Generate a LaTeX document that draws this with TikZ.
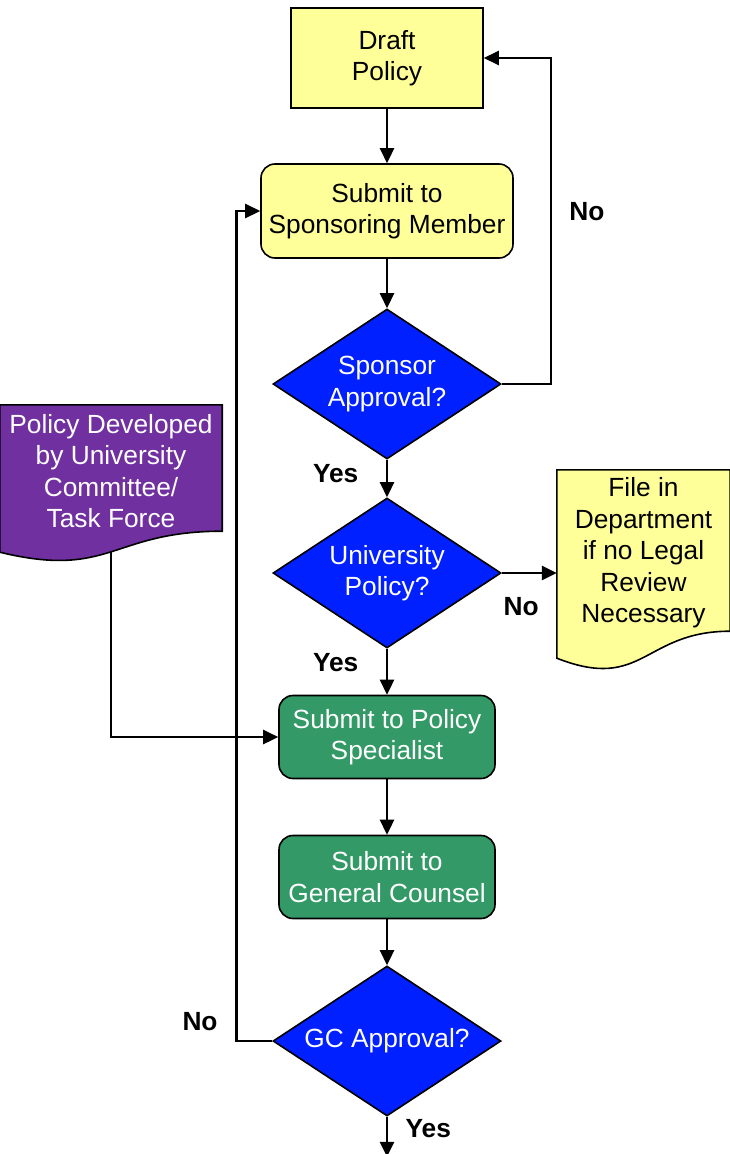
\documentclass[tikz,border=0pt]{standalone}
\usepackage{fontspec}
\setmainfont{Liberation Sans}
\usetikzlibrary{shapes.geometric,arrows.meta,positioning,backgrounds}
\definecolor{paleyellow}{RGB}{255,255,153}
\definecolor{diamondblue}{RGB}{0,32,255}
\definecolor{boxgreen}{RGB}{51,153,102}
\definecolor{docpurple}{RGB}{112,48,160}

\begin{document}
\begin{tikzpicture}[x=1pt,y=-1pt,>={Triangle[length=15pt,width=14pt]},
  every node/.style={font=\fontsize{26.3}{31.5}\selectfont, align=center},
  box/.style={draw, line width=1.6pt, fill=paleyellow},
  ybox/.style={draw, line width=1.6pt, rounded corners=14pt, fill=paleyellow},
  gbox/.style={draw, line width=1.6pt, rounded corners=14pt, fill=boxgreen, text=white, minimum width=216pt, minimum height=83pt},
  decision/.style={draw, line width=1.6pt, diamond, aspect=1.52, inner sep=0pt, fill=diamondblue, text=white, minimum width=228pt, minimum height=150pt},
  doc/.style={inner sep=0pt},
  docline/.style={line width=1.6pt},
  lbl/.style={font=\fontsize{26.3}{31.5}\selectfont\bfseries},
  line/.style={line width=2.6pt}]
        \useasboundingbox (0,0) rectangle (730,1154);
        \node[box, minimum width=192pt, minimum height=100pt] (draft) at (387,58) {Draft\\Policy};
        \node[ybox, minimum width=252pt, minimum height=94pt] (spons) [below of=draft, node distance=153pt] {Submit to\\Sponsoring Member};
        \node[decision] (spq) [below of=spons, node distance=173pt] {Sponsor\\Approval?};
        \node[decision] (uniq) [below of=spq, node distance=189pt] {University\\Policy?};
        \node[gbox] (spec) [below of=uniq, node distance=164pt] {Submit to Policy\\Specialist};
        \node[gbox] (gcsub) [below of=spec, node distance=140pt] {Submit to\\General Counsel};
        \node[decision] (gcq) [below of=gcsub, node distance=164pt] {GC Approval?};
        \coordinate (out) at ([yshift=-40pt]gcq.south);
        \node[doc, text=white, minimum width=222pt, minimum height=132pt] (dev) at (111,471) {Policy Developed\\by University\\Committee/\\Task Force};
        \node[doc, minimum width=173pt, minimum height=166pt] (file) at (643.5,553) {File in\\Department\\if no Legal\\Review\\Necessary};
        % document shapes with wavy bottom
        \begin{scope}[on background layer]
        \draw[docline, fill=docpurple] (dev.north west) -- (dev.north east) -- ([yshift=6pt]dev.south east) .. controls ([yshift=6pt]dev.south) and ([yshift=-42pt]dev.south) .. ([yshift=-15pt]dev.south west) -- cycle;
        \draw[docline, fill=paleyellow] (file.north west) -- (file.north east) -- ([yshift=5pt]file.south east) .. controls ([yshift=5pt]file.south) and ([yshift=-56pt]file.south) .. ([yshift=-22pt]file.south west) -- cycle;
        \end{scope}
        \draw[->, line] (draft) -- (spons);
        \draw[->, line] (spons) -- (spq);
        \draw[->, line] (spq.east) -- ++(49,0) |- node[lbl, pos=0.264, right=14pt] (no1) {No} (draft.east);
        \draw[->, line] (spq) -- node[lbl, pos=0.37, left=24pt] (yes1) {Yes} (uniq);
        \draw[->, line] (uniq.east) -- node[lbl, pos=0.35, below=20pt] (no2) {No} (uniq.east -| file.west);
        \draw[->, line] (uniq) -- node[lbl, pos=0.3, left=24pt] (yes2) {Yes} (spec);
        \draw[->, line] ([yshift=-15pt]dev.south) |- (spec);
        \draw[->, line] (spec) -- (gcsub);
        \draw[->, line] (gcsub) -- (gcq);
        \draw[->, line] (gcq.west) -- ++(-36,0) |- node[lbl, pos=0.012, left=14pt] (no3) {No} (spons.west);
        \draw[->, line] (gcq) -- node[lbl, pos=0.3, right=14pt] (yes3) {Yes} (out);
\end{tikzpicture}
\end{document}
